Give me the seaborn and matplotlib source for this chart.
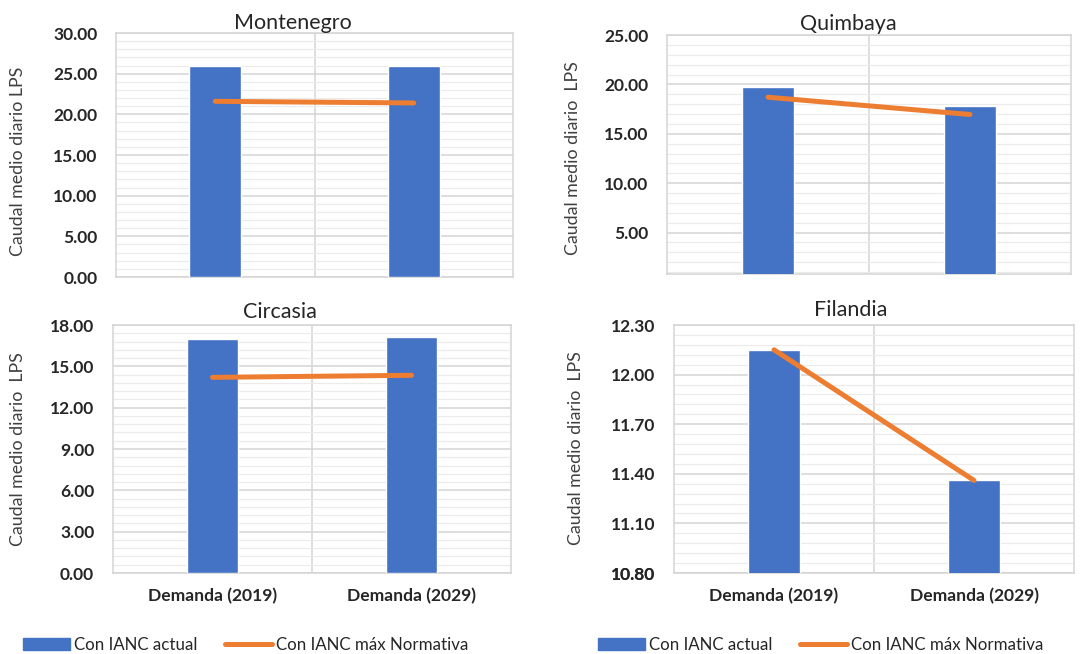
import matplotlib
matplotlib.use("Agg")
import matplotlib.pyplot as plt
from matplotlib.ticker import MultipleLocator, FixedLocator
from matplotlib.patches import Patch
from matplotlib.lines import Line2D
import seaborn as sns

# Datos
categorias = ["Demanda (2019)", "Demanda (2029)"]

montenegro_actual = [26.0, 25.9]
montenegro_norma = [21.6, 21.4]

quimbaya_actual = [19.75, 17.85]
quimbaya_norma = [18.7, 16.95]

circasia_actual = [16.95, 17.1]
circasia_norma = [14.2, 14.35]

filandia_actual = [12.15, 11.36]
filandia_norma = [12.15, 11.36]

AZUL = "#4472C4"
NARANJA = "#ED7D31"
W, H = 1084, 654

sns.set_theme(style="white")
plt.rcParams["font.family"] = ["Lato", "DejaVu Sans"]

fig = plt.figure(figsize=(W / 100, H / 100), dpi=100)


def px_axes(left, right, top, bottom):
    return fig.add_axes([left / W, 1 - bottom / H, (right - left) / W, (bottom - top) / H])


# titulo, datos, limites, paso, caja en pixeles, posicion del titulo y del eje y
paneles = [
    ("Montenegro", montenegro_actual, montenegro_norma, (0, 30), 5, (116, 513, 33, 277), (293, 23), (18, 161), "Caudal medio diario LPS", False),
    ("Quimbaya", quimbaya_actual, quimbaya_norma, (0.8, 25), 5, (667, 1071, 35, 274), (848, 24), (573, 158), "Caudal medio diario  LPS", False),
    ("Circasia", circasia_actual, circasia_norma, (0, 18), 3, (113, 511, 325, 573), (280, 312), (18, 449), "Caudal medio diario  LPS", True),
    ("Filandia", filandia_actual, filandia_norma, (10.8, 12.3), 0.3, (674, 1074, 325, 573), (851, 310), (576, 448), "Caudal medio diario  LPS", True),
]

for titulo, actual, norma, lims, paso, caja, pos_t, pos_y, ylab, con_x in paneles:
    ax = px_axes(*caja)
    sns.barplot(x=categorias, y=actual, color=AZUL, saturation=1, width=0.26, ax=ax, zorder=3)
    sns.lineplot(x=categorias, y=norma, color=NARANJA, lw=3.6, ax=ax, zorder=4,
                 solid_capstyle="round")
    ax.set_xlim(-0.5, 1.5)
    ax.set_ylim(*lims)
    ax.set_xlabel("")
    ax.set_ylabel("")

    # rejilla
    ticks = []
    t = paso
    while t <= lims[1] + 1e-9:
        ticks.append(round(t, 2))
        t += paso
    if lims[0] == 0 or abs(lims[0] - 10.8) < 1e-9:
        ticks = [lims[0]] + ticks
    ax.yaxis.set_major_locator(FixedLocator([v for v in ticks if v >= lims[0] - 1e-9]))
    ax.yaxis.set_minor_locator(MultipleLocator(paso / 5))
    ax.xaxis.set_minor_locator(FixedLocator([0.5]))
    ax.grid(which="major", axis="y", color="#D4D4D4", lw=1.1, zorder=0)
    ax.grid(which="minor", axis="y", color="#EBEBEB", lw=0.8, zorder=0)
    ax.grid(which="minor", axis="x", color="#D4D4D4", lw=1.1, zorder=0)
    ax.set_axisbelow(True)
    for s in ax.spines.values():
        s.set_color("#D4D4D4")
        s.set_linewidth(1.1)

    ax.yaxis.set_major_formatter(plt.FuncFormatter(lambda v, p: f"{v:.2f}"))
    ax.tick_params(axis="y", which="both", length=0, pad=13.5, labelsize=12.5, labelcolor="#262626")
    for lab in ax.get_yticklabels():
        lab.set_fontweight("bold")
    ax.tick_params(axis="x", which="both", length=0, pad=11, labelsize=12.6, labelcolor="#262626")
    if con_x:
        for lab in ax.get_xticklabels():
            lab.set_fontweight("bold")
    else:
        ax.set_xticklabels([])

    fig.text(pos_t[0] / W, 1 - pos_t[1] / H, titulo, ha="center", va="center",
             fontsize=15.5, color="#262626")
    fig.text(pos_y[0] / W, 1 - pos_y[1] / H, ylab, ha="center", va="center",
             rotation=90, fontsize=12.8, color="#404040")

# Leyendas
manejadores = [
    Patch(facecolor=AZUL, edgecolor=AZUL),
    Line2D([0], [0], color=NARANJA, lw=3.6, solid_capstyle="round"),
]
etiquetas = ["Con IANC actual", "Con IANC máx Normativa"]
for x0 in (23, 598):
    fig.legend(manejadores, etiquetas, loc="center left", ncol=2,
               bbox_to_anchor=(x0 / W, 1 - 645 / H), frameon=False,
               fontsize=12.2, handlelength=2.75, handleheight=0.72,
               handletextpad=0.25, columnspacing=1.65,
               borderpad=0, borderaxespad=0, labelcolor="#262626")

fig.savefig("out.png", dpi=100)
